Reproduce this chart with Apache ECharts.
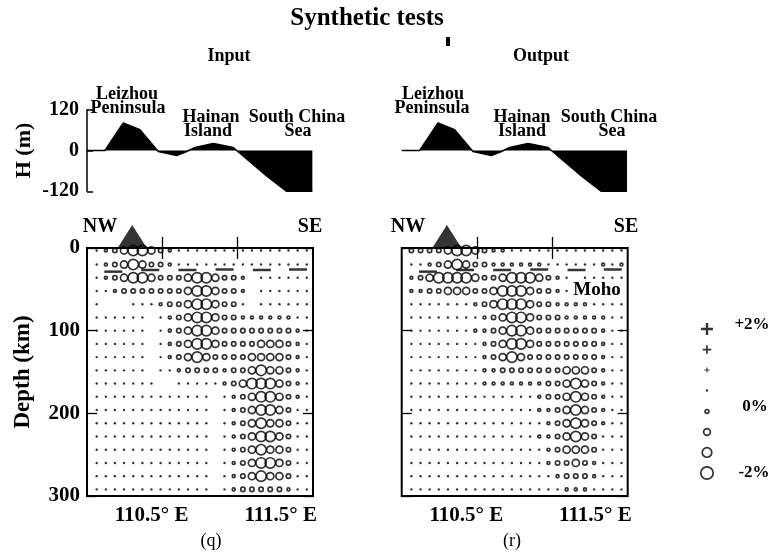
<!DOCTYPE html>
<html><head><meta charset="utf-8">
<script src="https://cdn.jsdelivr.net/npm/echarts@6/dist/echarts.min.js"></script>
<style>html,body{margin:0;padding:0;background:#fff}#c{width:779px;height:555px}</style>
</head><body><div id="c"></div>
<script>
// ---------------- data ----------------
// grid node longitudes (24 columns) and depths (19 rows)
const lons = [110.075,110.146,110.216,110.287,110.358,110.429,110.499,110.570,110.641,110.711,110.782,110.853,110.924,110.994,111.065,111.136,111.207,111.277,111.348,111.419,111.490,111.560,111.631,111.702];
const depths = [3,20,36,52,68,84,100,116,132,148,164,180,196,212,228,244,260,276,292];
// symbol code -> velocity perturbation (%)
const codeValues = {'.':0.3,'a':-0.1,'o':-0.4,'O':-0.95,'@':-1.6};
const inputRows = [
'.aoO@@Ooa...............',
'.aoO@Oooa...............',
'.aoO@@OoooO@@Oooa ......',
'..aoooooooO@@Oooa ......',
'.   ...aooO@@Ooo. ......',
'...... .aoO@@Oooaaaaaa..',
'...... .aoO@@Oooooooooa.',
'...... .aoO@@OooooOOOoa.',
'...... .aoO@OooooOOOOoa.',
'...... ..aooooaooO@OOoa.',
'.......  .....aoO@@@Ooa.',
'............. .aoO@@Ooa.',
'............. .aoO@@Oo..',
'............. .aoO@OOo..',
'............. .aoO@@Oo..',
'............. .aoO@OOo..',
'............. .aoO@@Oo..',
'............. .aoO@OOo..',
'............. .aoooooa..'
];
const outputRows = [
'ooooO@@Ooaa.............',
'..aoO@Oooaaaaaa......a.a',
'aoO@@@@OooO@@@Ooa. .....',
'aaooOOOooO@@@Oooa.      ',
'.......aoO@@@Oooaaaa....',
'........aoO@@Ooooaaaaa..',
'.......aaoO@@Ooooooooa..',
'........aoO@@Ooooooooa..',
'........aoO@Oooooooooa..',
'........aaoooooooOOOoa..',
'........aaaaaaaooO@Ooa..',
'..............aooO@Ooa..',
'..............aaoO@Ooa..',
'...............aoO@Ooa..',
'..............aaoO@Oo...',
'...............aoOOOo...',
'...............aooOoa...',
'................aoooa...',
'.................aaa....'
];
// topography profile
const topoLon = [110.0,110.139,110.281,110.410,110.552,110.695,110.772,110.836,110.978,111.133,111.159,111.391,111.546,111.745];
const topoH   = [0,0,81,61,-3,-15,-3,9,21,9,0,-75,-120,-120];
// Moho marks
const mohoLon = [110.204,110.490,110.778,111.065,111.354,111.634];
const mohoDepth = [28.6,26.6,26.6,26.0,26.6,26.0];
// station triangle
const stationLon = [110.35];
// legend scale (%)
const legendValues = [2,1.43,0.86,0.29,-0.29,-0.86,-1.43,-2];

// ---------------- chart ----------------
const FF = '"Liberation Serif", "Times New Roman", serif';
const plusPath = 'path://M4,0H6V4H10V6H6V10H4V6H0V4H4Z';
function posSize(v){ return v < 0.5 ? 2.4 : 6*v; }
function negSize(v){ return 2.4 + 5*Math.abs(v); }
function cells(rows){
  const pos=[], neg=[];
  rows.forEach((row,r)=>{
    for(let c=0;c<row.length && c<lons.length;c++){
      const ch=row[c]; if(!(ch in codeValues)) continue;
      const v=codeValues[ch];
      (v>0?pos:neg).push([lons[c],depths[r],v]);
    }
  });
  return {pos,neg};
}
const L1=87, L2=401.7, W=226, lonMin=110, lonMax=111.75;
const tickStyle={color:'#000',width:1.3};
const grids=[
  {left:L1,top:109.7,width:W,height:81.6},
  {left:L2,top:109.7,width:W,height:81.6},
  {left:L1,top:248,width:W,height:248,show:true,borderColor:'#000',borderWidth:2,backgroundColor:'transparent'},
  {left:L2,top:248,width:W,height:248,show:true,borderColor:'#000',borderWidth:2,backgroundColor:'transparent'},
  {left:700,top:329,width:14,height:144}
].map(g=>Object.assign({containLabel:false,outerBoundsMode:'none'},g));

function lonAxis(gi,pos,labels){
  return {gridIndex:gi,type:'value',min:lonMin,max:lonMax,position:pos,
    axisLine:{show:false},splitLine:{show:false},
    axisTick:{show:true,inside:true,length:11,customValues:[110.5833,111.1667],lineStyle:tickStyle},
    axisLabel:{show:labels,customValues:[110.5,111.5],formatter:v=>v.toFixed(1)+'° E',
      fontFamily:FF,fontWeight:'bold',fontSize:21,color:'#000',margin:9}};
}
function depthAxis(gi,pos,labels,name){
  const a={gridIndex:gi,type:'value',inverse:true,min:0,max:300,interval:100,position:pos,
    axisLine:{show:false},splitLine:{show:false},
    axisTick:{show:true,inside:true,length:10,lineStyle:tickStyle},
    axisLabel:{show:labels,fontFamily:FF,fontWeight:'bold',fontSize:21,color:'#000',margin:7}};
  if(name){Object.assign(a,{name:name,nameLocation:'middle',nameRotate:90,nameGap:52,
    nameTextStyle:{fontFamily:FF,fontWeight:'bold',fontSize:23,color:'#000'}});}
  return a;
}
const xAxis=[
  {gridIndex:0,type:'value',min:lonMin,max:lonMax,show:false},
  {gridIndex:1,type:'value',min:lonMin,max:lonMax,show:false},
  lonAxis(2,'bottom',true), lonAxis(2,'top',false),
  lonAxis(3,'bottom',true), lonAxis(3,'top',false),
  {gridIndex:4,type:'value',min:-1,max:1,show:false}
];
const yAxis=[
  {gridIndex:0,type:'value',min:-120,max:120,interval:120,position:'left',
   axisLine:{show:true,lineStyle:{color:'#000',width:1.5}},
   axisTick:{show:true,inside:true,length:6,lineStyle:{color:'#000',width:1.5}},
   axisLabel:{fontFamily:FF,fontWeight:'bold',fontSize:20,color:'#000',margin:8},
   splitLine:{show:false},
   name:'H (m)',nameLocation:'middle',nameRotate:90,nameGap:52,
   nameTextStyle:{fontFamily:FF,fontWeight:'bold',fontSize:22,color:'#000'}},
  {gridIndex:1,type:'value',min:-120,max:120,show:false},
  depthAxis(2,'left',true,'Depth (km)'), depthAxis(2,'right',false),
  depthAxis(3,'left',false), depthAxis(3,'right',false),
  {gridIndex:4,type:'value',min:-2,max:2,show:false}
];
const topo=topoLon.map((x,i)=>[x,topoH[i]]);
const moho=mohoLon.map((x,i)=>[x,mohoDepth[i]]);
const series=[];
[0,1].forEach(i=>{
  series.push({type:'line',xAxisIndex:i,yAxisIndex:i,data:topo,symbol:'none',
    lineStyle:{color:'#000',width:1.5},areaStyle:{color:'#000',opacity:1},silent:true});
});
[[inputRows,2,2],[outputRows,4,4]].forEach(([rows,xi,yi])=>{
  const d=cells(rows);
  series.push({type:'scatter',xAxisIndex:xi,yAxisIndex:yi,data:d.neg,symbol:'circle',
    symbolSize:v=>negSize(v[2]),itemStyle:{color:'rgba(0,0,0,0)',borderColor:'#000',borderWidth:1.7},silent:true,clip:false});
  series.push({type:'scatter',xAxisIndex:xi,yAxisIndex:yi,data:d.pos,
    symbol:v=>v[2]<0.5?'circle':plusPath,symbolSize:v=>posSize(v[2]),itemStyle:{color:'#000'},silent:true,clip:false});
  series.push({type:'scatter',xAxisIndex:xi,yAxisIndex:yi,data:moho,symbol:'rect',symbolSize:[18,2.5],
    itemStyle:{color:'#000'},silent:true,clip:false});
  series.push({type:'scatter',xAxisIndex:xi,yAxisIndex:yi,data:stationLon.map(x=>[x,-14.5]),symbol:'triangle',
    symbolSize:[28,22],itemStyle:{color:'#000'},silent:true,clip:false});
});
const legPos=legendValues.filter(v=>v>0).map(v=>[0,v,v]);
const legNeg=legendValues.filter(v=>v<0).map(v=>[0,v,v]);
series.push({type:'scatter',xAxisIndex:6,yAxisIndex:6,data:legPos,symbol:v=>v[2]<0.5?'circle':plusPath,
  symbolSize:v=>posSize(v[2]),itemStyle:{color:'#000'},silent:true,clip:false});
series.push({type:'scatter',xAxisIndex:6,yAxisIndex:6,data:legNeg,symbol:'circle',
  symbolSize:v=>negSize(v[2]),itemStyle:{color:'rgba(0,0,0,0)',borderColor:'#000',borderWidth:1.7},silent:true,clip:false});

function txt(t,x,y,size,weight){
  const font=(weight||'bold')+' '+size+'px '+FF;
  return {type:'text',x:x,y:y,silent:true,style:{text:t,fill:'#000',font:font,
    textAlign:'center',textVerticalAlign:'middle',align:'center',verticalAlign:'middle'}};
}
const graphic=[
  txt('Synthetic tests',367,19,25),
  txt('Input',229,56,18), txt('Output',541,56,18),
  txt('Leizhou',127,94,18), txt('Peninsula',128,108,18),
  txt('Hainan',211,117,18), txt('Island',208,131,18),
  txt('South China',297,117,18), txt('Sea',298,131,18),
  txt('Leizhou',433,94,18), txt('Peninsula',432,108,18),
  txt('Hainan',522,117,18), txt('Island',522,131,18),
  txt('South China',609,117,18), txt('Sea',612,131,18),
  txt('NW',100,227,20), txt('SE',310,227,20),
  txt('NW',408,227,20), txt('SE',626,227,20),
  txt('Moho',597,290,19),
  txt('(q)',211,541,18,'normal'), txt('(r)',512,541,18,'normal'),
  txt('+2%',752,325,17), txt('0%',755,407,17), txt('-2%',754,473,17),
  {type:'rect',shape:{x:446,y:37,width:4,height:9},style:{fill:'#000'},silent:true}
];
const chart=echarts.init(document.getElementById('c'),null,{renderer:'canvas',width:779,height:555});
chart.setOption({animation:false,backgroundColor:'#fff',textStyle:{fontFamily:FF},
  grid:grids,xAxis:xAxis,yAxis:yAxis,series:series,graphic:graphic});
</script></body></html>
